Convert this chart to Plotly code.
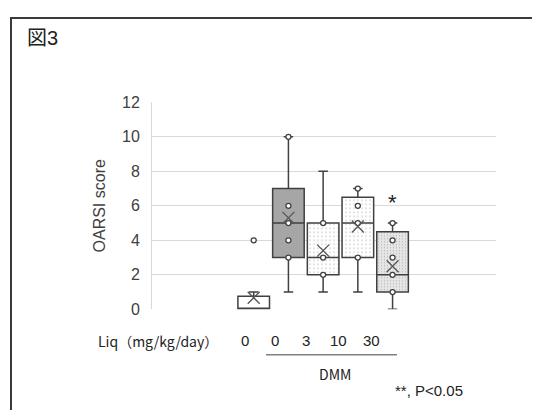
import plotly.graph_objects as go

W, H = 540, 410
OFF = 8  # page body margin offset

# ---- data ----
positions = [1, 2, 3, 4, 5]
dose_labels = ["0", "0", "3", "10", "30"]
q1 = [0, 3, 2, 3, 1]
median = [0, 5, 3, 5, 2]
q3 = [0.75, 7, 5, 6.5, 4.5]
lower = [0, 1, 1, 1, 0]
upper = [1, 10, 8, 7, 5]
means = [0.67, 5.3, 3.4, 4.8, 2.5]
points = [
    [4],
    [10, 6, 5, 4, 3],
    [5, 3, 2],
    [7, 6, 5, 3],
    [5, 4, 3, 2, 1],
]
sig_pos = [5]
sig_val = [6.4]

fills = ["white", "#a6a6a6", "white", "white", "#e6e6e6"]
patterns = ["", "", ".", ".", "."]
pat_fg = ["#999999", "#999999", "#9a9a9a", "#9a9a9a", "#8c8c8c"]
pat_size = [4, 4, 4, 4, 3]

def px(x):
    return (x - OFF) / W

def py(y):
    return 1 - (y - OFF) / H

fig = go.Figure()
BW = 0.91
edge = "#404040"

for i, p in enumerate(positions):
    fig.add_trace(go.Bar(
        x=[p], y=[q3[i] - q1[i]], base=[q1[i]], width=BW,
        marker=dict(color=fills[i], line=dict(width=0),
                    pattern=dict(shape=patterns[i], fgcolor=pat_fg[i], bgcolor=fills[i],
                                 size=pat_size[i], solidity=0.15)),
        showlegend=False, hoverinfo="skip"))
    fig.add_trace(go.Box(
        x=[p], q1=[q1[i]], median=[median[i]], q3=[q3[i]],
        lowerfence=[lower[i]], upperfence=[upper[i]],
        width=BW, whiskerwidth=0.3, fillcolor="rgba(0,0,0,0)",
        line=dict(color=edge, width=1.5), boxpoints=False,
        showlegend=False))
    fig.add_trace(go.Scatter(
        x=[p] * len(points[i]), y=points[i], mode="markers",
        marker=dict(symbol="circle", size=5, color="white",
                    line=dict(color=edge, width=1.3)),
        showlegend=False))

fig.add_trace(go.Scatter(
    x=positions, y=means, mode="markers",
    marker=dict(symbol="x-thin-open", size=12, color="#555555",
                line=dict(color="#555555", width=1.3)),
    showlegend=False))

fig.update_layout(
    width=W, height=H, autosize=False,
    margin=dict(l=0, r=0, t=0, b=0),
    paper_bgcolor="white", plot_bgcolor="white",
    barmode="overlay", boxmode="overlay",
    font=dict(family="Liberation Sans, Arial, sans-serif", color="#404040"),
    xaxis=dict(domain=[px(152), px(496)], range=[-1.93, 7.98],
               showgrid=False, zeroline=False, showticklabels=False,
               ticks="", showline=False),
    yaxis=dict(domain=[py(314), py(98)], range=[0, 12], dtick=2,
               showgrid=True, gridcolor="#d9d9d9", gridwidth=1,
               zeroline=False, showline=True, linecolor="#d9d9d9", linewidth=1,
               ticks="", ticklabelstandoff=8,
               tickfont=dict(size=16, color="#404040"),
               title=dict(text="OARSI score", font=dict(size=16, color="#404040"),
                          standoff=12)),
)

shapes = [
    dict(type="line", xref="paper", yref="paper", x0=px(10), x1=px(560),
         y0=py(10), y1=py(10), line=dict(color="#3a3a3a", width=2)),
    dict(type="line", xref="paper", yref="paper", x0=px(11), x1=px(11),
         y0=py(9), y1=py(430), line=dict(color="#3a3a3a", width=2)),
    dict(type="line", xref="paper", yref="paper", x0=px(266), x1=px(397),
         y0=py(361.5), y1=py(361.5), line=dict(color="#404040", width=1)),
]
fig.update_layout(shapes=shapes)

label_x = [245, 275, 306, 338, 371]
ann = [
    dict(text="図<span style='font-family:Liberation Sans'>3</span>", x=px(25), y=py(29),
         xanchor="left", yanchor="middle",
         font=dict(family="Noto Sans CJK JP", size=20, color="#222222")),
    dict(text="Liq（mg/kg/day）", x=px(96), y=py(347), xanchor="left", yanchor="middle",
         font=dict(family="Noto Sans CJK JP", size=14, color="#222222")),
    dict(text="DMM", x=px(335), y=py(382), xanchor="center", yanchor="middle",
         font=dict(family="Noto Sans CJK JP", size=14, color="#222222")),
    dict(text="**, P<0.05", x=px(393), y=py(399), xanchor="left", yanchor="middle",
         font=dict(family="Liberation Sans", size=15, color="#222222")),
]
for lx, lab in zip(label_x, dose_labels):
    ann.append(dict(text=lab, x=px(lx), y=py(347), xanchor="center", yanchor="middle",
                    font=dict(family="Liberation Sans", size=15, color="#222222")))
for sx, sv in zip(sig_pos, sig_val):
    ann.append(dict(text="*", x=sx, y=sv, xref="x", yref="y", xanchor="center",
                    yanchor="middle", yshift=-4,
                    font=dict(family="Liberation Sans", size=22, color="#222222")))
for a in ann:
    a.setdefault("xref", "paper")
    a.setdefault("yref", "paper")
    a["showarrow"] = False
fig.update_layout(annotations=ann)

fig.write_html("out.html")
